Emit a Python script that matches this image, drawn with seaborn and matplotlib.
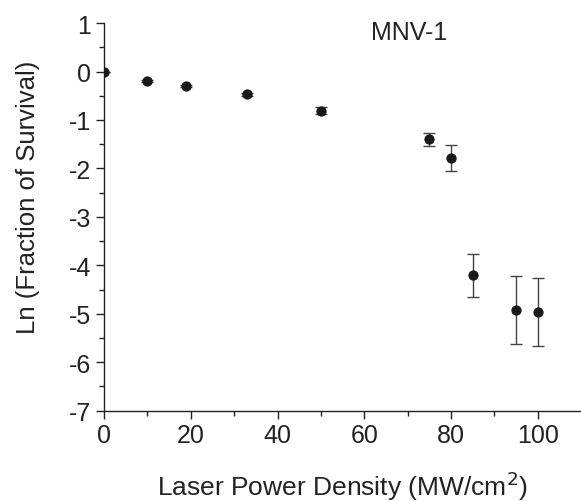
import numpy as np
import pandas as pd
import seaborn as sns
import matplotlib.pyplot as plt

# Survival data
power = [0, 10, 19, 33, 50, 75, 80, 85, 95, 100]
ln_survival = [0.0, -0.19, -0.30, -0.47, -0.81, -1.40, -1.78, -4.21, -4.93, -4.96]
error = [0.0, 0.02, 0.02, 0.03, 0.07, 0.14, 0.27, 0.45, 0.70, 0.70]

df = pd.DataFrame({"power": power, "ln_survival": ln_survival, "error": error})

sns.set_style("ticks")
plt.rcParams['font.family'] = ['Liberation Sans', 'DejaVu Sans']
plt.rcParams['axes.unicode_minus'] = False

fig = plt.figure(figsize=(5.81, 5.02), dpi=100)
ax = fig.add_axes([0.179, 0.180, 0.819, 0.772])

ax.errorbar(df["power"], df["ln_survival"], yerr=df["error"], fmt='none',
            ecolor='#444444', elinewidth=1.0, capsize=4, capthick=1.0)
sns.scatterplot(data=df, x="power", y="ln_survival", ax=ax, color='#1a1a1a',
                s=55, edgecolor='#1a1a1a', linewidth=0, zorder=3)

ax.set_xlim(0, 109.7)
ax.set_ylim(-7, 1)
ax.set_xticks(np.arange(0, 101, 20))
ax.set_xticks(np.arange(10, 110, 20), minor=True)
ax.set_yticks(np.arange(-7, 2, 1))
ax.set_yticks(np.arange(-6.5, 1, 1), minor=True)

sns.despine(ax=ax)
for sp in ['left', 'bottom']:
    ax.spines[sp].set_color('#222222')
    ax.spines[sp].set_linewidth(1.0)

ax.tick_params(axis='both', which='major', direction='out', length=6, width=1,
               labelsize=18, colors='#222222', pad=3)
ax.tick_params(axis='both', which='minor', direction='out', length=3.5, width=1,
               colors='#222222')

ax.set_xlabel("Laser Power Density (MW/cm$^2$)", fontsize=19, color='#222222')
ax.set_ylabel("Ln (Fraction of Survival)", fontsize=18.5, color='#222222')
ax.xaxis.set_label_coords(0.5, -0.15)
ax.xaxis.label.set_va('top')
ax.yaxis.set_label_coords(-0.16, 0.554)
ax.yaxis.label.set_va('center')

ax.text(70.3, 0.82, "MNV-1", fontsize=18, color='#222222', ha='center', va='center')

fig.savefig("out.png", dpi=100)
